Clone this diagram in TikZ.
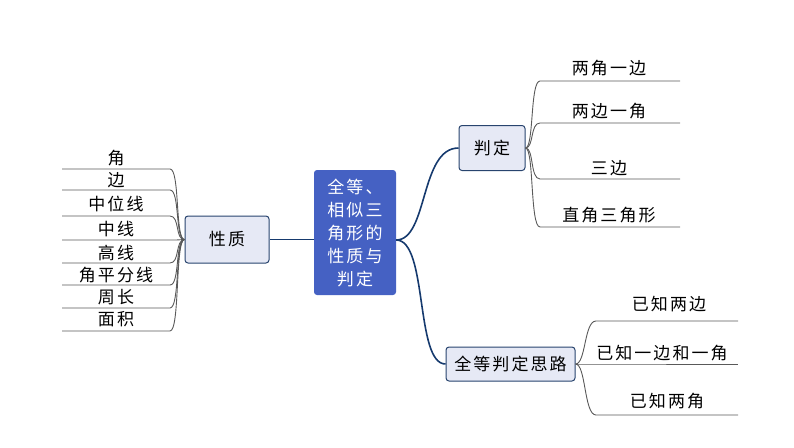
\documentclass[tikz,border=0pt]{standalone}
\usepackage{fontspec}
\setmainfont[LetterSpace=12]{Noto Sans CJK SC}
\definecolor{hubblue}{RGB}{69,97,195}
\definecolor{trunknavy}{RGB}{22,58,110}
\definecolor{topicfill}{RGB}{230,233,245}
\definecolor{topicline}{RGB}{40,68,110}
\begin{document}
\begin{tikzpicture}[x=1pt,y=-1pt,
  topic/.style={draw=topicline, line width=1pt, fill=topicfill, rounded corners=3pt, inner sep=0pt, font=\fontsize{17}{17}\selectfont},
  leaf/.style={inner sep=1pt, font=\fontsize{17}{17}\selectfont},
  trunk/.style={draw=trunknavy, line width=1.6pt},
  twig/.style={draw=black!65, line width=0.9pt}]
\useasboundingbox (0,0) rectangle (794,447);
% centre
\node[fill=hubblue, rounded corners=3pt, minimum width=82pt, minimum height=125pt, text=white, align=center, font=\fontsize{17}{23}\selectfont] (main) at (355,232.5) {全等、\\相似三\\角形的\\性质与\\判定};
\node[topic, minimum width=84pt, minimum height=47pt] (xz) at (227,239.5) {性质};
\node[topic, minimum width=66pt, minimum height=45pt] (pd) at (492,148) {判定};
\node[topic, minimum width=129pt, minimum height=34pt] (sl) at (510.5,364) {全等判定思路};
\draw[trunk, line width=1.3pt] (main.west |- xz.east) -- (xz.east);
\draw[trunk] (main.east |- 0,240) .. controls (428,240) and (420,148) .. (pd.west);
\draw[trunk] (main.east |- 0,240) .. controls (428,240) and (415,364) .. (sl.west);
% left leaves
\foreach \n/\y/\ly/\t in {1/169/158/角, 2/190/180/边, 3/216/204/中位线, 4/240/229/中线, 5/263/253/高线, 6/285/275/角平分线, 7/308/297/周长, 8/331/319/面积}{
  \coordinate (xa\n) at (170,\y);
  \coordinate (xb\n) at (62,\y);
  \draw[twig] (xz.west) .. controls (175,240) and (180,\y) .. (xa\n) -- (xb\n);
  \node[leaf] (xt\n) at (116,\ly) {\t};
}
% right leaves, 判定
\foreach \n/\y/\ly/\t in {1/81/68/两角一边, 2/123/111/两边一角, 3/179/168/三边, 4/227/215/直角三角形}{
  \coordinate (pa\n) at (540,\y);
  \coordinate (pb\n) at (680,\y);
  \draw[twig] (pd.east) .. controls (534,148) and (530,\y) .. (pa\n) -- (pb\n);
  \node[leaf] (pt\n) at (609,\ly) {\t};
}
% right leaves, 思路
\foreach \n/\y/\ly/\lx/\t in {1/321/304/669/已知两边, 2/364/353/662/已知一边和一角, 3/415/401/667/已知两角}{
  \coordinate (sa\n) at (596,\y);
  \coordinate (sb\n) at (738,\y);
  \draw[twig] (sl.east) .. controls (586,364) and (584,\y) .. (sa\n) -- (sb\n);
  \node[leaf] (st\n) at (\lx,\ly) {\t};
}
\end{tikzpicture}
\end{document}
